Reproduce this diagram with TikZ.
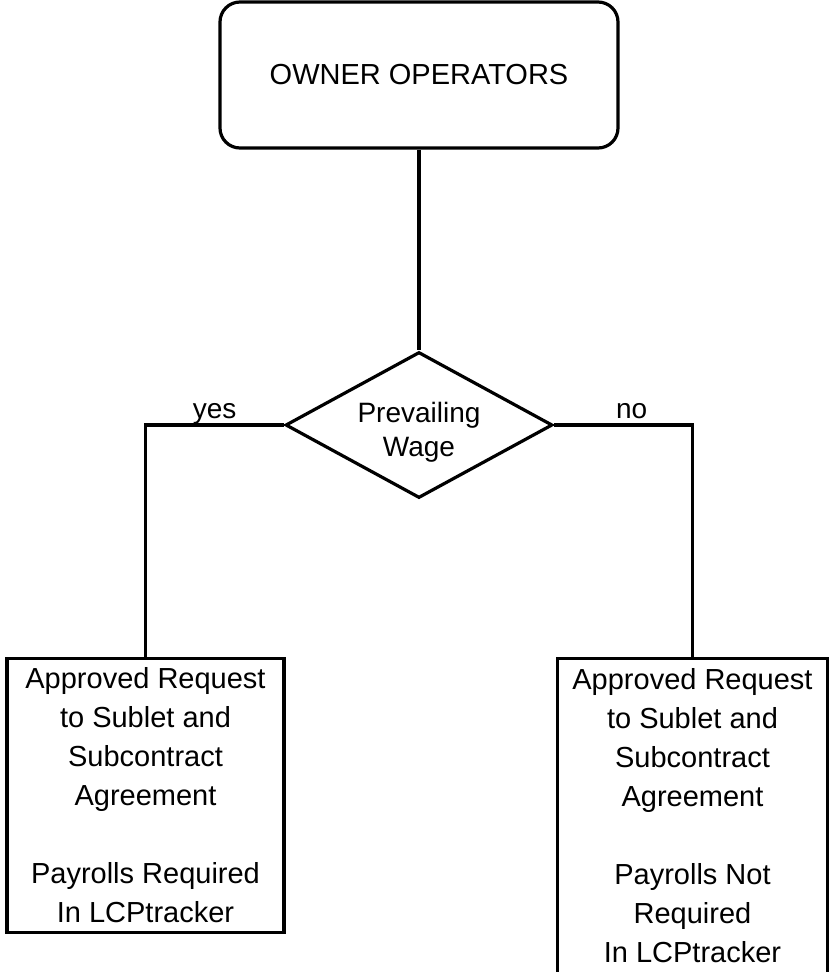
\documentclass[tikz,border=0pt]{standalone}
\usepackage{fontspec}
\setmainfont{Liberation Sans}
\usetikzlibrary{shapes.geometric}

\begin{document}
\begin{tikzpicture}[
     grow = down,
     line width = 3.2pt,
     every node/.style = {font=\fontsize{29}{39}\selectfont, align=center}
    ]
    \tikzstyle{level 1}=[level distance=350pt]
    \tikzstyle{level 2}=[level distance=232pt, sibling distance=547pt]
    \tikzstyle{startbox}=[draw, rounded corners=20pt, minimum width=398pt, minimum height=146pt]
    \tikzstyle{decision}=[draw, diamond, aspect=1.8, inner sep=0pt, minimum width=267pt, minimum height=146pt, font=\fontsize{28}{34}\selectfont]
    \tikzstyle{resultbox}=[draw, anchor=north, inner sep=0pt]
    \tikzstyle{answer}=[anchor=base, yshift=7pt, inner sep=0pt, font=\fontsize{28}{34}\selectfont]

    \useasboundingbox (0pt,0pt) rectangle (830pt,-972pt);

    \node[startbox] (owner) at (419pt,-75pt) {OWNER OPERATORS}
     child { node[decision] (wage) {\rule{0pt}{34pt}Prevailing\\Wage}
       child[edge from parent path={(\tikzparentnode.west) -| (\tikzchildnode.north)}]
       { node[resultbox, minimum width=277pt, minimum height=274pt] (yesbox)
           {Approved Request\\to Sublet and\\Subcontract\\Agreement\\[39pt]Payrolls Required\\In LCPtracker}
         edge from parent node[answer, pos=0.25] (yeslabel) {yes}
       }
       child[edge from parent path={(\tikzparentnode.east) -| (\tikzchildnode.north)}]
       { node[resultbox, minimum width=270pt, minimum height=315pt] (nobox)
           {Approved Request\\to Sublet and\\Subcontract\\Agreement\\[39pt]Payrolls Not\\Required\\In LCPtracker}
         edge from parent node[answer, pos=0.28] (nolabel) {no}
       }
     };
\end{tikzpicture}
\end{document}
